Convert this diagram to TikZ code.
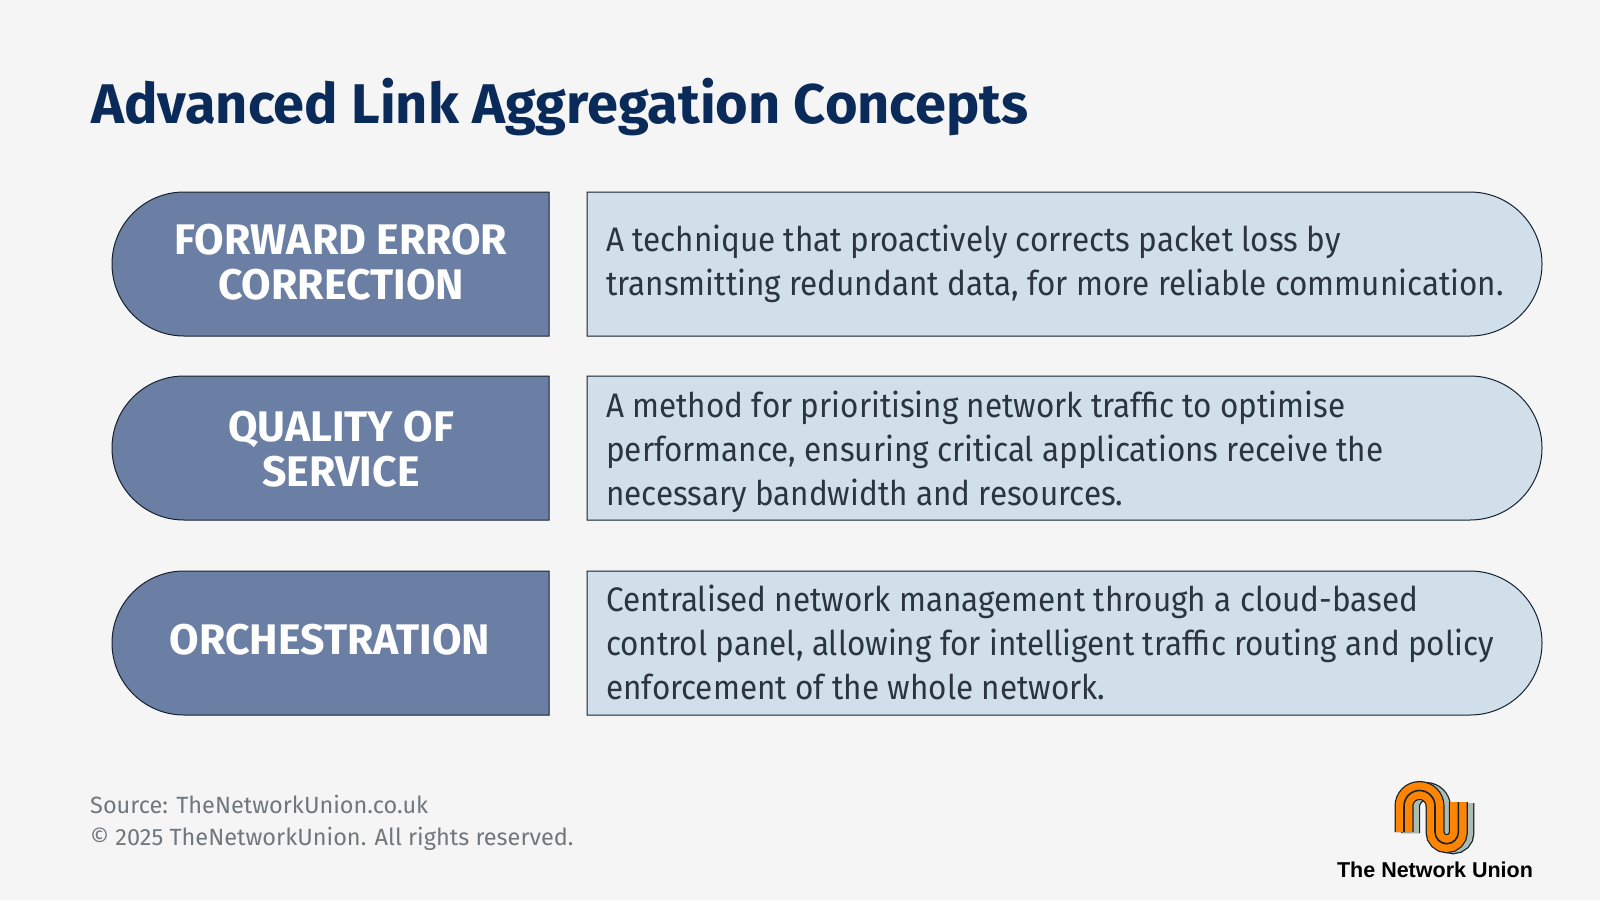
\documentclass[tikz,border=0pt]{standalone}
\usepackage{fontspec}
\setmainfont{Fira Sans}
\newfontfamily\bodyfont[FakeStretch=0.925]{Fira Sans}
\newfontfamily\logofont{Liberation Sans}
\usetikzlibrary{shapes.misc}
\definecolor{pagebg}{HTML}{F5F5F5}
\definecolor{titleblue}{HTML}{0A2A5A}
\definecolor{headblue}{HTML}{6A7FA3}
\definecolor{bodyblue}{HTML}{D0DFEA}
\definecolor{bodyink}{HTML}{2B3440}
\definecolor{footgrey}{HTML}{70777D}
\definecolor{edgeink}{HTML}{16222E}
\definecolor{logoorange}{HTML}{FF8500}
\definecolor{logosage}{HTML}{A9BDB5}
\begin{document}
\begin{tikzpicture}[x=1pt,y=-1pt]
      \tikzstyle{headbox} = [rounded rectangle, rounded rectangle east arc=none, draw=edgeink, line width=1pt, fill=headblue, minimum width=437pt, minimum height=144pt, inner sep=0pt, outer sep=0pt]
      \tikzstyle{bodybox} = [rounded rectangle, rounded rectangle west arc=none, draw=edgeink, line width=1pt, fill=bodyblue, minimum width=955pt, minimum height=144pt, inner sep=0pt, outer sep=0pt]
      \tikzstyle{headtext} = [text=white, align=center, font=\fontsize{42.8}{45}\selectfont\bfseries, inner sep=0pt]
      \tikzstyle{bodytext} = [text=bodyink, align=left, anchor=west, font=\bodyfont\fontsize{34}{44}\selectfont, inner sep=0pt]
      \tikzstyle{foottext} = [text=footgrey, anchor=west, font=\fontsize{23.5}{33}\selectfont, inner sep=0pt]

      \fill[pagebg] (0,0) rectangle (1600,900);
      \useasboundingbox (0,0) rectangle (1600,900);

      \node[text=titleblue, anchor=west, inner sep=0pt, font=\fontsize{55.9}{60}\selectfont\bfseries] (title) at (91,107) {Advanced Link Aggregation Concepts};

      \node[headbox] (h1) at (330.5,264) {};
      \node[headbox] (h2) at (330.5,448) {};
      \node[headbox] (h3) at (330.5,643) {};
      \node[bodybox] (b1) at (1064.5,264) {};
      \node[bodybox] (b2) at (1064.5,448) {};
      \node[bodybox] (b3) at (1064.5,643) {};

      \node[headtext] (t1) at (341,262) {FORWARD ERROR\\CORRECTION};
      \node[headtext] (t2) at (341,449) {QUALITY OF\\SERVICE};
      \node[headtext] (t3) at (330,640) {ORCHESTRATION};

      \node[bodytext] (d1) at (606,264) {A technique that proactively corrects packet loss by\\transmitting redundant data, for more reliable communication.};
      \node[bodytext] (d2) at (606,452) {A method for prioritising network traffic to optimise\\performance, ensuring critical applications receive the\\necessary bandwidth and resources.};
      \node[bodytext] (d3) at (606,642) {Centralised network management through a cloud-based\\control panel, allowing for intelligent traffic routing and policy\\enforcement of the whole network.};

      \node[foottext] (src) at (90,804) {Source: TheNetworkUnion.co.uk};
      \node[foottext] (rights) at (90,839) {© 2025 TheNetworkUnion. All rights reserved.};

      % logo
      \def\logopath{(1404,832) -- (1404,806) arc[start angle=180, end angle=360, radius=15.5] -- (1435,832) arc[start angle=180, end angle=0, radius=11.7] -- (1458.4,802)}
      \begin{scope}[shift={(6.5,1)}]
        \draw[edgeink, line width=19pt] \logopath;
        \draw[logosage, line width=16.5pt] \logopath;
      \end{scope}
      \draw[edgeink, line width=19pt] \logopath;
      \draw[logoorange, line width=16.5pt] \logopath;
      \draw[edgeink, line width=1.6pt] \logopath;

      \node[inner sep=0pt, text=black, font=\logofont\fontsize{21.5}{26}\selectfont\bfseries] (brand) at (1435,870) {The Network Union};
\end{tikzpicture}
\end{document}
